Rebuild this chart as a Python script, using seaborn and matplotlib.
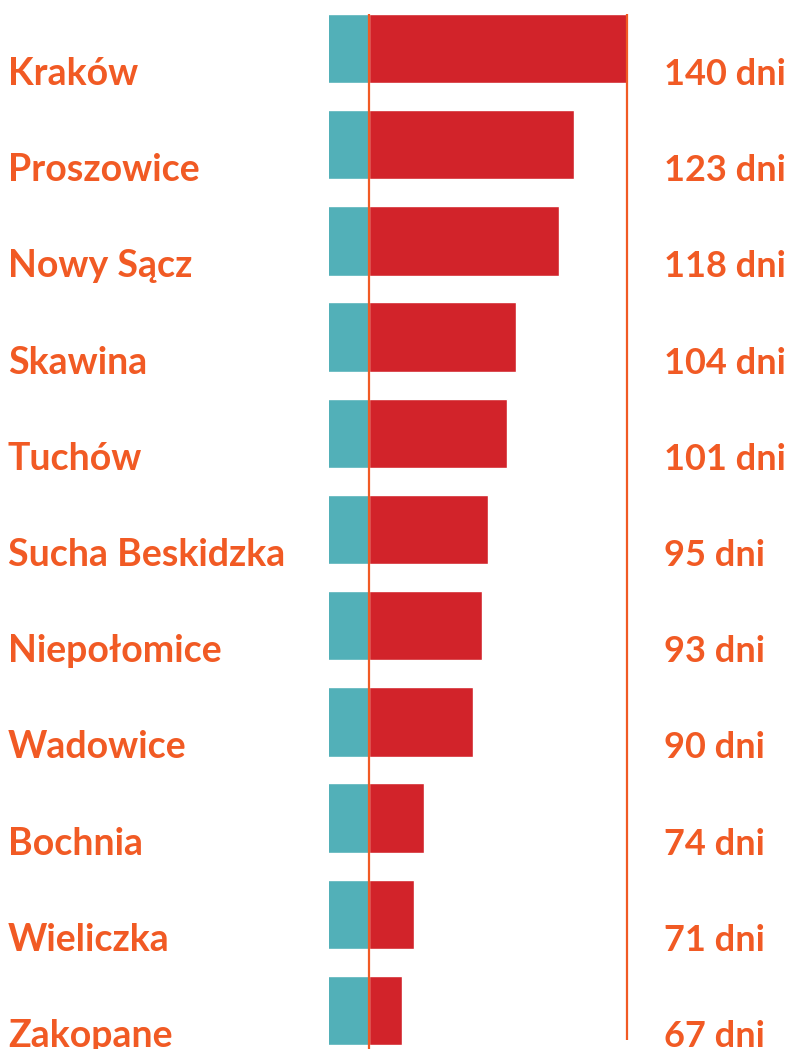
import matplotlib
matplotlib.use("Agg")
import matplotlib.pyplot as plt
import matplotlib.transforms as mtransforms
import seaborn as sns
import pandas as pd

# data
cities = ["Kraków", "Proszowice", "Nowy Sącz", "Skawina", "Tuchów", "Sucha Beskidzka",
          "Niepołomice", "Wadowice", "Bochnia", "Wieliczka", "Zakopane"]
days = [140, 123, 118, 104, 101, 95, 93, 90, 74, 71, 67]
labels = [f"{d} dni" for d in days]

# teal block runs up to the marked edge, red continues to the value
teal_edge = 56.3
axis_start = 43.3

teal = "#52B0B8"
red = "#D2232A"
orange = "#F15A24"

df = pd.DataFrame({"city": cities, "days": days, "edge": [teal_edge] * len(cities)})

sns.set_style("white")
plt.rcParams["font.family"] = ["Lato", "DejaVu Sans"]

fig = plt.figure(figsize=(7.89, 10.49), dpi=100)
ax = fig.add_axes([329 / 789, 0, 460 / 789, 1])

sns.barplot(data=df, x="days", y="city", orient="h", color=red, width=0.72,
            saturation=1, ax=ax)
sns.barplot(data=df, x="edge", y="city", orient="h", color=teal, width=0.72,
            saturation=1, ax=ax)

ax.set_xlim(axis_start, axis_start + 460 / 3.08)
ax.set_ylim(10.40, -0.504)

# reference lines
ax.vlines(teal_edge, -0.36, 10.40, color=orange, lw=1.6, zorder=5)
ax.vlines(max(days), -0.36, 10.31, color=orange, lw=1.6, zorder=5)

ax.set_xlabel("")
ax.set_ylabel("")
ax.set_xticks([])
ax.set_yticks([])
sns.despine(ax=ax, left=True, bottom=True)

trans = mtransforms.blended_transform_factory(fig.transFigure, ax.transData)
for i, (c, lab) in enumerate(zip(cities, labels)):
    y = i + 0.38
    ax.text(8 / 789, y, c, transform=trans, color=orange, fontsize=27,
            fontweight="bold", va="baseline", ha="left", clip_on=False)
    ax.text(664 / 789, y, lab, transform=trans, color=orange, fontsize=26,
            fontweight="bold", va="baseline", ha="left", clip_on=False)

fig.savefig("out.png", dpi=100)
